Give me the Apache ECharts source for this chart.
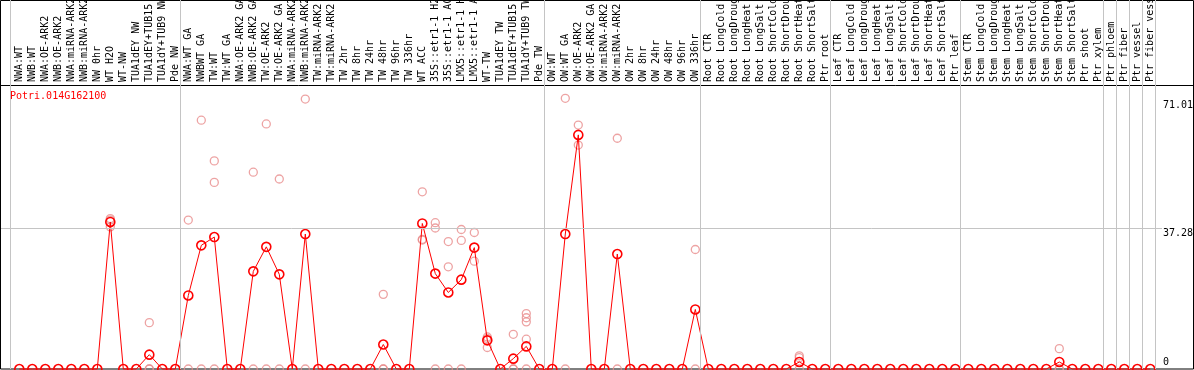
<!DOCTYPE html>
<html><head><meta charset="utf-8">
<script src="https://cdn.jsdelivr.net/npm/echarts@6/dist/echarts.min.js"></script>
<style>html,body{margin:0;padding:0;background:#fff}#c{width:1194px;height:370px}</style>
</head><body><div id="c"></div>
<script>
const geneName = 'Potri.014G162100';

const categories = [
  'NWA:WT','NWB:WT','NWA:OE-ARK2','NWB:OE-ARK2','NWA:miRNA-ARK2','NWB:miRNA-ARK2','NW 0hr','WT H2O','WT-NW','TUA1dEY NW','TUA1dEY+TUB15 NW','TUA1dY+TUB9 NW','Pde NW',
  'NWA:WT GA','NWBWT GA','TW:WT','TW:WT GA','NWA:OE-ARK2 GA','NWB:OE-ARK2 GA','TW:OE-ARK2','TW:OE-ARK2 GA','NWA:miRNA-ARK2','NWB:miRNA-ARK2','TW:miRNA-ARK2','TW:miRNA-ARK2',
  'TW 2hr','TW 8hr','TW 24hr','TW 48hr','TW 96hr','TW 336hr','WT ACC','35S::etr1-1 H2O','35S::etr1-1 ACC','LMX5::etr1-1 H2O','LMX5::etr1-1 ACC','WT-TW','TUA1dEY TW','TUA1dEY+TUB15 TW','TUA1dY+TUB9 TW','Pde TW',
  'OW:WT','OW:WT GA','OW:OE-ARK2','OW:OE-ARK2 GA','OW:miRNA-ARK2','OW:miRNA-ARK2','OW 2hr','OW 8hr','OW 24hr','OW 48hr','OW 96hr','OW 336hr',
  'Root CTR','Root LongCold','Root LongDrought','Root LongHeat','Root LongSalt','Root ShortCold','Root ShortDrought','Root ShortHeat','Root ShortSalt','Ptr root',
  'Leaf CTR','Leaf LongCold','Leaf LongDrought','Leaf LongHeat','Leaf LongSalt','Leaf ShortCold','Leaf ShortDrought','Leaf ShortHeat','Leaf ShortSalt','Ptr leaf',
  'Stem CTR','Stem LongCold','Stem LongDrought','Stem LongHeat','Stem LongSalt','Stem ShortCold','Stem ShortDrought','Stem ShortHeat','Stem ShortSalt','Ptr shoot',
  'Ptr xylem','Ptr phloem','Ptr fiber','Ptr vessel','Ptr fiber vessel'
];

const means = [
  0,0,0,0,0,0,0,39.0,0,0,3.8,0,0,
  19.5,32.8,35.0,0,0,25.9,32.4,25.1,0,35.8,0,0,
  0,0,0,6.5,0,0,38.6,25.3,20.3,23.7,32.2,7.6,0,2.75,6.0,0,
  0,35.8,62.1,0,0,30.5,0,0,0,0,0,15.8,
  0,0,0,0,0,0,0,1.86,0,0,
  0,0,0,0,0,0,0,0,0,0,
  0,0,0,0,0,0,0,1.86,0,0,
  0,0,0,0,0
];

const replicates = [
  [],[],[],[],[],[],[],[39.9,39.5,37.7],[],[],[12.3,0,0],[],[],
  [39.5,0],[66.0,0],[55.2,49.5,0],[],[],[52.2,0],[65.0,0],[50.4,0],[],[71.6,0],[],[],
  [],[],[],[19.8,0,0],[],[],[47.0,34.4,34.2],[38.8,37.4,0],[33.8,27.1,0],[37.0,34.1,0],[36.2,28.6],[8.5,8.1,5.7],[],[9.2,0,0],[14.7,13.6,12.5,7.9,0],[],
  [],[71.8,0],[64.7,59.4],[],[],[61.2,0],[],[],[],[],[],[31.7,0],
  [],[],[],[],[],[],[],[3.5,3.0,0],[],[],
  [],[],[],[],[],[],[],[],[],[],
  [],[],[],[],[],[],[],[5.4,0,0],[],[],
  [],[],[],[],[]
];

const yTickLabels = [0, 37.28, 71.01];
const gridLineValues = [37.28];
const groupEnds = [12, 40, 52, 62, 72, 83, 84, 85, 86, 87];

const PITCH = 13, FIRST = 19.3, LEFT = 1, RIGHTEDGE = 1162;
const xMin = (LEFT - FIRST) / PITCH;
const xMax = (RIGHTEDGE - FIRST) / PITCH;
const sepValues = [-9 / PITCH].concat(groupEnds.map(i => i + 5 / PITCH));
const idx = categories.map((_, i) => i);
const FONT = 'DejaVu Sans Mono';

const repData = [];
replicates.forEach((arr, i) => arr.forEach(v => repData.push([i, v])));
const meanData = means.map((v, i) => [i, v]);

const vLines = {
  silent: true, symbol: ['none', 'none'], label: { show: false },
  lineStyle: { color: '#c4c4c4', width: 1, type: 'solid' },
  data: sepValues.map(v => ({ xAxis: v }))
};

const chart = echarts.init(document.getElementById('c'), null, { renderer: 'canvas' });
chart.setOption({
  animation: false,
  backgroundColor: '#fff',
  title: { text: geneName, left: 10, top: 91, padding: 0,
    textStyle: { color: '#ff0000', fontSize: 10, fontWeight: 'normal', fontFamily: FONT } },
  grid: [
    { left: LEFT, right: 1194 - RIGHTEDGE, top: 85, bottom: 1, outerBoundsMode: 'none', containLabel: false },
    { left: LEFT, right: 1194 - RIGHTEDGE, top: 0, height: 85, outerBoundsMode: 'none', containLabel: false }
  ],
  xAxis: [
    { gridIndex: 0, type: 'value', position: 'top', min: xMin, max: xMax,
      axisLine: { show: false, onZero: false }, axisTick: { show: false }, splitLine: { show: false },
      axisLabel: { customValues: idx, rotate: -90, margin: 3, fontSize: 10, fontFamily: FONT, color: '#000',
        hideOverlap: false,
        formatter: v => categories[Math.round(v)] } },
    { gridIndex: 1, type: 'value', min: xMin, max: xMax, show: false, splitLine: { show: false } }
  ],
  yAxis: [
    { gridIndex: 0, type: 'value', position: 'right', min: 0, max: 75.33,
      axisLine: { show: false }, axisTick: { show: false }, splitLine: { show: false },
      axisLabel: { customValues: yTickLabels, margin: 1, fontSize: 10, fontFamily: FONT, color: '#000',
        verticalAlign: 'middle', align: 'left',
        formatter: v => v === 0 ? '{z|0}' : '{n|' + v.toFixed(2) + '}',
        rich: {
          z: { fontSize: 10, fontFamily: FONT, color: '#000', padding: [0, 0, 14, 0] },
          n: { fontSize: 10, fontFamily: FONT, color: '#000', padding: [9, 0, 0, 0] }
        } } },
    { gridIndex: 1, type: 'value', min: 0, max: 1, show: false, splitLine: { show: false } }
  ],
  graphic: [
    { type: 'rect', z: 0, silent: true, shape: { x: 0.5, y: 0.5, width: 1193, height: 368.5 },
      style: { fill: 'none', stroke: '#000', lineWidth: 1 } },
    { type: 'line', z: 0, silent: true, shape: { x1: 0.5, y1: 85.5, x2: 1193.5, y2: 85.5 },
      style: { stroke: '#000', lineWidth: 1 } }
  ],
  series: [
    { type: 'scatter', xAxisIndex: 1, yAxisIndex: 1, data: [[0, -5]], symbolSize: 0, silent: true,
      markLine: vLines },
    { type: 'scatter', xAxisIndex: 0, yAxisIndex: 0, data: repData, symbol: 'circle', symbolSize: 8,
      itemStyle: { color: 'rgba(0,0,0,0)', borderColor: '#e88c8c', borderWidth: 1.3 },
      markLine: {
        silent: true, symbol: ['none', 'none'], label: { show: false },
        lineStyle: { color: '#c4c4c4', width: 1, type: 'solid' },
        data: sepValues.map(v => ({ xAxis: v })).concat(gridLineValues.map(v => ({ yAxis: v })))
      } },
    { type: 'line', xAxisIndex: 0, yAxisIndex: 0, data: meanData, symbol: 'circle', symbolSize: 9,
      showAllSymbol: true, clip: false,
      lineStyle: { color: '#ff0000', width: 1 },
      itemStyle: { color: 'rgba(0,0,0,0)', borderColor: '#ff0000', borderWidth: 1.6 } }
  ]
});
</script>
</body></html>
